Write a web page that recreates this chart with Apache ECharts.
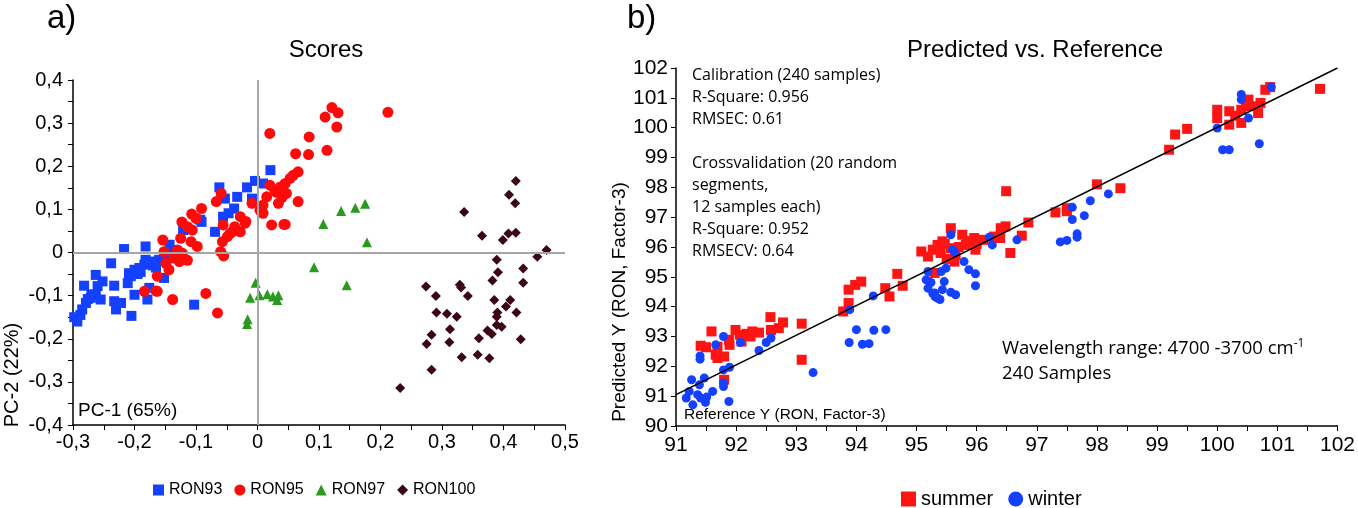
<!DOCTYPE html>
<html>
<head>
<meta charset="utf-8">
<script src="https://cdn.jsdelivr.net/npm/echarts@6/dist/echarts.min.js"></script>
<style>
  html, body { margin: 0; padding: 0; background: #fff; }
  #main { width: 1358px; height: 508px; }
</style>
</head>
<body>
<div id="main"></div>
<script>
// ---- panel a) PCA scores, [PC-1, PC-2]
var ron93 = [
  [-0.298,-0.150],[-0.293,-0.160],[-0.288,-0.145],[-0.285,-0.132],[-0.279,-0.117],[-0.276,-0.108],
  [-0.271,-0.105],[-0.270,-0.097],[-0.263,-0.098],[-0.255,-0.109],[-0.282,-0.077],[-0.263,-0.052],
  [-0.260,-0.078],[-0.252,-0.067],[-0.238,-0.025],[-0.233,-0.077],[-0.233,-0.113],[-0.230,-0.132],
  [-0.222,-0.117],[-0.217,0.008],[-0.211,-0.071],[-0.206,-0.055],[-0.205,-0.147],[-0.200,-0.098],
  [-0.200,-0.040],[-0.209,-0.048],[-0.192,-0.036],[-0.184,-0.028],[-0.182,0.014],[-0.182,-0.017],
  [-0.179,-0.109],[-0.176,-0.082],[-0.176,-0.025],[-0.168,-0.021],[-0.160,-0.017],[-0.152,-0.013],
  [-0.152,-0.059],[-0.143,0.018],[-0.141,0.006],[-0.133,-0.005],[-0.121,0.052],[-0.119,0.054],
  [-0.103,-0.121],[-0.093,0.076],[-0.091,0.071],[-0.069,0.048],[-0.062,0.151],[-0.056,0.083],
  [-0.053,0.125],[-0.047,0.091],[-0.038,0.102],[-0.033,0.129],[-0.017,0.151],[-0.009,0.125],
  [-0.004,0.166],[0.009,0.160],[0.021,0.191],[-0.190,-0.045],[-0.195,-0.050],[-0.170,-0.030],
  [-0.165,-0.035]
];
var ron95 = [
  [0.212,0.325],[0.121,0.336],[0.131,0.324],[0.110,0.314],[0.129,0.291],[0.020,0.276],[0.084,0.268],
  [0.113,0.237],[0.062,0.229],[0.083,0.227],[0.066,0.187],[0.058,0.179],[0.053,0.172],[0.045,0.160],
  [0.037,0.152],[0.028,0.145],[0.020,0.156],[0.047,0.137],[0.034,0.114],[0.066,0.118],[0.015,0.129],
  [0.009,0.110],[0.004,0.098],[0.009,0.091],[0.023,0.064],[0.045,0.065],[-0.009,0.114],[-0.059,0.137],
  [-0.067,0.118],[-0.091,0.102],[-0.107,0.089],[-0.123,0.071],[-0.099,0.079],[-0.028,0.083],
  [-0.020,0.068],[-0.037,0.060],[-0.056,0.064],[-0.045,0.044],[-0.028,0.048],[-0.019,0.072],
  [-0.041,0.048],[-0.049,0.037],[-0.057,0.025],[-0.060,0.002],[-0.055,-0.008],[-0.100,0.079],
  [-0.114,0.060],[-0.106,0.052],[-0.125,0.033],[-0.108,0.025],[-0.098,0.014],[-0.154,0.029],
  [-0.152,0.002],[-0.130,0.006],[-0.122,-0.002],[-0.136,-0.013],[-0.149,-0.025],[-0.144,-0.040],
  [-0.127,-0.021],[-0.114,-0.018],[-0.163,-0.055],[-0.184,-0.090],[-0.163,-0.090],[-0.138,-0.109],
  [-0.084,-0.095],[-0.065,-0.140],[-0.165,-0.089],[0.043,0.065],[0.030,0.140],[0.040,0.128]
];
var ron97 = [
  [-0.003,-0.070],[-0.012,-0.105],[0.003,-0.099],[0.016,-0.097],[0.025,-0.102],[0.034,-0.099],
  [0.032,-0.110],[-0.016,-0.155],[-0.017,-0.166],[0.107,0.066],[0.136,0.096],[0.159,0.104],
  [0.175,0.113],[0.178,0.024],[0.092,-0.034],[0.145,-0.076]
];
var ron100 = [
  [0.420,0.166],[0.409,0.134],[0.419,0.114],[0.336,0.094],[0.365,0.039],[0.399,0.029],[0.408,0.044],
  [0.420,0.046],[0.470,0.006],[0.455,-0.010],[0.389,-0.017],[0.432,-0.037],[0.391,-0.046],
  [0.382,-0.065],[0.432,-0.070],[0.274,-0.079],[0.329,-0.075],[0.331,-0.081],[0.290,-0.101],
  [0.342,-0.101],[0.385,-0.110],[0.411,-0.110],[0.404,-0.125],[0.291,-0.139],[0.308,-0.142],
  [0.324,-0.149],[0.390,-0.139],[0.389,-0.149],[0.421,-0.139],[0.389,-0.168],[0.397,-0.172],
  [0.313,-0.178],[0.283,-0.191],[0.275,-0.212],[0.312,-0.208],[0.374,-0.181],[0.381,-0.189],
  [0.360,-0.199],[0.428,-0.201],[0.332,-0.243],[0.358,-0.237],[0.377,-0.245],[0.283,-0.272],
  [0.232,-0.314]
];

// ---- panel b) predicted vs reference, [reference, predicted]
var summer = [
  [91.41,92.69],[91.50,92.64],[91.59,93.17],[91.69,92.66],[91.69,92.28],[91.66,92.39],[91.80,92.33],
  [91.80,91.55],[91.89,92.72],[91.88,92.89],[91.99,93.22],[92.06,93.06],[92.09,92.83],[92.18,93.09],
  [92.24,93.00],[92.27,93.17],[92.38,93.13],[92.57,93.65],[92.58,93.22],[92.71,93.28],[92.78,93.47],
  [93.09,93.43],[93.09,92.22],
  [93.78,93.84],[93.87,94.12],[93.87,94.57],[93.98,94.73],[94.08,94.84],[94.48,94.62],[94.55,94.34],
  [94.68,95.10],[94.77,94.70],[95.08,95.85],[95.19,95.68],[95.27,95.91],[95.35,96.07],[95.43,96.19],
  [95.57,96.63],[95.57,95.96],[95.65,95.74],[95.63,95.51],[95.76,96.41],[95.82,96.07],[95.96,96.30],
  [95.98,95.91],[96.12,96.24],[96.29,96.35],[96.39,96.30],[96.40,96.63],[96.48,96.69],[96.56,95.80],
  [96.75,96.38],[96.86,96.82],[95.30,95.13],[95.47,96.10],[95.70,96.00],[95.85,96.20],[96.00,96.10],
  [95.40,95.80],[95.50,95.60],
  [96.49,97.87],[97.31,97.16],[97.50,97.20],[97.50,97.30],[98.00,98.10],[98.39,97.97],
  [99.20,99.26],[99.30,99.77],[99.50,99.96],[100.00,100.60],[100.00,100.32],[100.20,100.55],
  [100.20,100.10],[100.40,100.60],[100.40,100.16],[100.52,100.94],[100.56,100.72],[100.68,100.49],
  [100.72,100.83],[100.80,101.27],[100.88,101.36],[101.71,101.30],[100.48,100.77],[100.30,100.40]
];
var winter = [
  [91.17,90.94],[91.28,90.71],[91.22,91.16],[91.26,91.55],[91.39,91.38],[91.47,91.61],[91.36,91.05],
  [91.41,90.94],[91.49,90.79],[91.51,90.97],[91.61,91.16],[91.40,92.35],[91.40,92.24],[91.79,91.44],
  [91.79,91.32],[91.88,90.82],[91.79,91.88],[91.89,91.97],[91.79,93.00],[91.66,92.72],[92.07,92.80],
  [92.38,92.53],[92.50,92.80],[92.58,92.95],[93.28,91.79],[93.89,93.90],[93.88,92.80],[94.00,93.23],
  [94.10,92.74],[94.21,92.76],[94.28,94.36],[94.29,93.21],[94.49,93.23],
  [95.19,95.18],[95.16,94.90],[95.24,94.81],[95.19,94.62],[95.30,94.46],[95.35,94.29],[95.43,94.57],
  [95.46,94.84],[95.41,95.18],[95.49,95.29],[95.57,94.48],[95.65,94.40],[95.79,95.51],[95.87,95.24],
  [95.98,95.10],[95.98,94.70],[95.39,94.24],[95.31,94.33],[95.27,94.44],[95.57,96.41],[95.60,95.91],
  [96.26,96.07],[96.67,96.24],[96.21,96.33],[95.63,95.83],
  [97.39,96.17],[97.50,96.22],[97.67,96.33],[97.67,96.44],[97.59,97.33],[97.59,96.92],[97.79,97.05],
  [97.89,97.55],[98.19,97.78],
  [100.00,99.99],[100.09,99.26],[100.20,99.26],[100.40,101.11],[100.40,100.94],[100.52,100.32],
  [100.70,99.46],[100.90,101.36]
];
var fitLine = [[91, 91.05], [102, 102]];

var statLines = [
  'Calibration (240 samples)', 'R-Square: 0.956', 'RMSEC: 0.61', '',
  'Crossvalidation (20 random', 'segments,', '12 samples each)', 'R-Square: 0.952', 'RMSECV: 0.64'
];

var chart = echarts.init(document.getElementById('main'));
var sans = '"Liberation Sans", Arial, sans-serif';
var calib = '"Open Sans", sans-serif';

function comma(v) {
  if (Math.abs(v) < 1e-9) return '0';
  return v.toFixed(1).replace('.', ',');
}

function axisBase() {
  return {
    axisLine: { show: true, onZero: false, lineStyle: { color: '#000', width: 1.5 } },
    axisTick: { show: true, length: 5, lineStyle: { color: '#000' } },
    splitLine: { show: false }
  };
}

var graphics = [
  { type: 'text', left: 47, top: 2, style: { text: 'a)', font: '33px ' + sans, fill: '#000' } },
  { type: 'text', left: 627, top: 2, style: { text: 'b)', font: '33px ' + sans, fill: '#000' } },
  { type: 'text', left: 78, top: 401, style: { text: 'PC-1 (65%)', font: '19px ' + sans, fill: '#000' } },
  { type: 'text', x: 12, y: 375, rotation: Math.PI / 2,
    style: { text: 'PC-2 (22%)', font: '20px ' + sans, fill: '#000', textAlign: 'center', textVerticalAlign: 'middle' } },
  { type: 'text', x: 620, y: 302, rotation: Math.PI / 2,
    style: { text: 'Predicted Y (RON, Factor-3)', font: '19px ' + sans, fill: '#000', textAlign: 'center', textVerticalAlign: 'middle' } },
  { type: 'text', left: 684, top: 407, style: { text: 'Reference Y (RON, Factor-3)', font: '15.5px ' + sans, fill: '#000' } },
  { type: 'text', left: 1002, top: 338,
    style: {
      text: '{a|Wavelength range: 4700 -3700 cm}{s|-1}', fill: '#000',
      rich: { a: { font: '18.5px ' + calib, fill: '#000' }, s: { font: '12px ' + calib, fill: '#000', verticalAlign: 'top', padding: [0, 0, 10, 0] } }
    } },
  { type: 'text', left: 1002, top: 364, style: { text: '240 Samples', font: '18.5px ' + calib, fill: '#000' } }
];
statLines.forEach(function (t, i) {
  if (!t) return;
  graphics.push({ type: 'text', left: 692, top: 67 + i * 22,
    style: { text: t, font: '16px ' + calib, fill: '#000' } });
});

var option = {
  animation: false,
  backgroundColor: '#fff',
  title: [
    { text: 'Scores', left: 321, top: 33, textAlign: 'center',
      textStyle: { fontFamily: sans, fontSize: 24, fontWeight: 'normal', color: '#000' } },
    { text: 'Predicted vs. Reference', left: 1030, top: 33, textAlign: 'center',
      textStyle: { fontFamily: sans, fontSize: 24, fontWeight: 'normal', color: '#000' } }
  ],
  legend: [
    {
      data: [{ name: 'RON93', icon: 'rect' }, { name: 'RON95', icon: 'circle' },
             { name: 'RON97', icon: 'triangle' }, { name: 'RON100', icon: 'diamond' }],
      left: 148, top: 477, itemWidth: 11, itemHeight: 11, itemGap: 12,
      textStyle: { fontFamily: sans, fontSize: 16, color: '#000' }
    },
    {
      data: [{ name: 'summer', icon: 'rect' }, { name: 'winter', icon: 'circle' }],
      left: 896, top: 484, itemWidth: 15, itemHeight: 15, itemGap: 15,
      textStyle: { fontFamily: sans, fontSize: 20, color: '#000' }
    }
  ],
  grid: [
    { left: 73, top: 80, width: 492, height: 345 },
    { left: 676, top: 68, width: 667, height: 358 }
  ],
  xAxis: [
    Object.assign(axisBase(), {
      gridIndex: 0, type: 'value', min: -0.3, max: 0.5, interval: 0.1,
      minorTick: { show: true, splitNumber: 2, length: 5, lineStyle: { color: '#000' } },
      axisLabel: { formatter: comma, fontFamily: sans, fontSize: 20, color: '#000', margin: 7 }
    }),
    Object.assign(axisBase(), {
      gridIndex: 1, type: 'value', min: 91, max: 102, interval: 1,
      minorTick: { show: true, splitNumber: 2, length: 5, lineStyle: { color: '#000' } },
      axisLabel: { fontFamily: sans, fontSize: 21, color: '#000', margin: 9 }
    })
  ],
  yAxis: [
    Object.assign(axisBase(), {
      gridIndex: 0, type: 'value', min: -0.4, max: 0.4, interval: 0.1,
      minorTick: { show: true, splitNumber: 2, length: 5, lineStyle: { color: '#000' } },
      axisLabel: { formatter: comma, fontFamily: sans, fontSize: 20, color: '#000', margin: 10, padding: [0, 0, 10, 0] }
    }),
    Object.assign(axisBase(), {
      gridIndex: 1, type: 'value', min: 90, max: 102, interval: 1,
      axisLabel: { fontFamily: sans, fontSize: 21, color: '#000', margin: 8, padding: [0, 0, 14, 0] }
    })
  ],
  graphic: graphics,
  series: [
    {
      name: 'zero', type: 'scatter', xAxisIndex: 0, yAxisIndex: 0, data: [], z: 1, silent: true,
      markLine: {
        silent: true, symbol: 'none', label: { show: false },
        lineStyle: { color: '#a6a6a6', type: 'solid', width: 2 },
        data: [{ xAxis: 0 }, { yAxis: 0 }]
      }
    },
    { name: 'RON93', type: 'scatter', xAxisIndex: 0, yAxisIndex: 0, data: ron93,
      symbol: 'rect', symbolSize: 10, itemStyle: { color: '#1440ff', opacity: 1 } },
    { name: 'RON95', type: 'scatter', xAxisIndex: 0, yAxisIndex: 0, data: ron95,
      symbol: 'circle', symbolSize: 11, itemStyle: { color: '#ff0a0a', opacity: 1 } },
    { name: 'RON97', type: 'scatter', xAxisIndex: 0, yAxisIndex: 0, data: ron97,
      symbol: 'triangle', symbolSize: 10, itemStyle: { color: '#2a9a1e', opacity: 1 } },
    { name: 'RON100', type: 'scatter', xAxisIndex: 0, yAxisIndex: 0, data: ron100,
      symbol: 'diamond', symbolSize: 10, itemStyle: { color: '#3b0514', opacity: 1 } },
    { name: 'summer', type: 'scatter', xAxisIndex: 1, yAxisIndex: 1, data: summer,
      symbol: 'rect', symbolSize: 10, itemStyle: { color: '#ff1414', opacity: 1 } },
    { name: 'winter', type: 'scatter', xAxisIndex: 1, yAxisIndex: 1, data: winter,
      symbol: 'circle', symbolSize: 9, itemStyle: { color: '#1440ff', opacity: 1 } },
    { name: 'fit', type: 'line', xAxisIndex: 1, yAxisIndex: 1, data: fitLine, z: 5,
      showSymbol: false, silent: true, lineStyle: { color: '#000', width: 1.5 } }
  ]
};
chart.setOption(option);
</script>
</body>
</html>
